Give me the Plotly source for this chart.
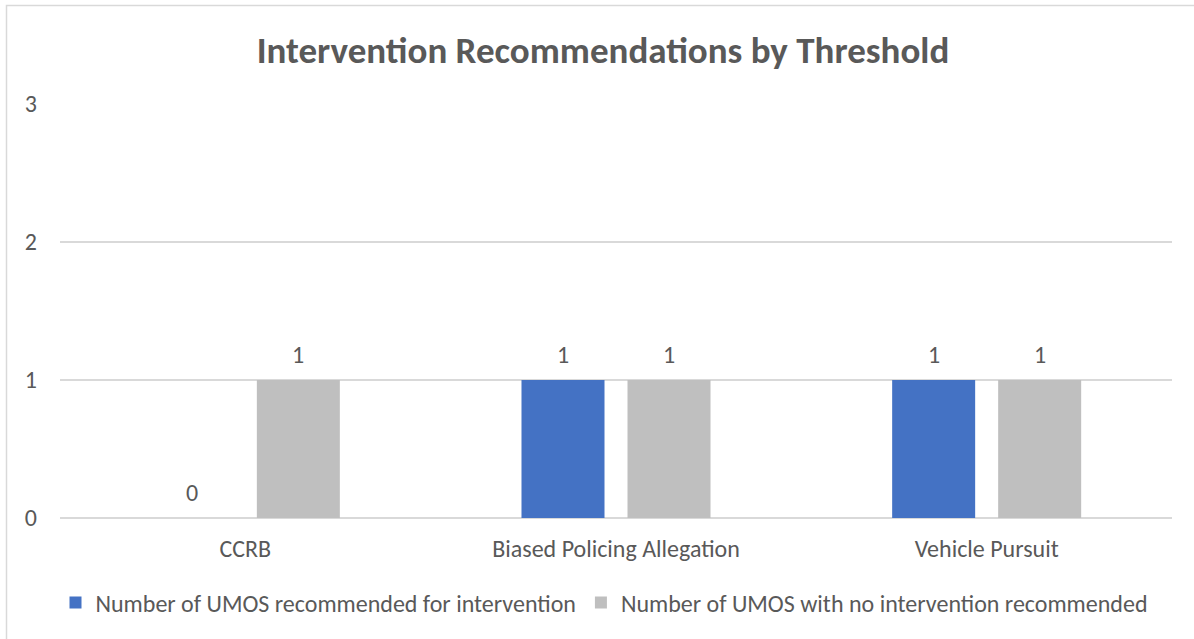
import plotly.graph_objects as go

categories = ["CCRB", "Biased Policing Allegation", "Vehicle Pursuit"]
series_names = ["Number of UMOS recommended for intervention",
                "Number of UMOS with no intervention recommended"]
recommended = [0, 1, 1]
not_recommended = [1, 1, 1]
y_ticks = [0, 1, 2, 3]

FONT = "Carlito, Calibri, Lato, sans-serif"
TXT = "#595959"
COLORS = ["#4472C4", "#BFBFBF"]

L, R, T, B = 60, 22, 104, 121
W, H = 1194, 639
pw, ph = W - L - R, H - T - B
BARGAP, GROUPGAP = 0.428, 0.217

def px_x(p):
    return (p - L) / pw

def px_y(p):
    return (H - B - p) / ph

fig = go.Figure()
series = [recommended, not_recommended]
for name, vals, col in zip(series_names, series, COLORS):
    fig.add_trace(go.Bar(x=categories, y=vals, name=name,
                         marker=dict(color=col, line=dict(width=0))))

# data labels as annotations above each bar
slot_px = pw / len(categories) * (1 - BARGAP) / len(series)
annotations = []
for i, vals in enumerate(series):
    shift = (i - (len(series) - 1) / 2) * slot_px
    for c, v in zip(categories, vals):
        annotations.append(dict(x=c, y=v, xref="x", yref="y", text=str(v), showarrow=False,
                                xshift=shift, yshift=9, yanchor="bottom",
                                font=dict(size=24, color=TXT, family=FONT)))

fig.update_layout(
    width=W, height=H,
    margin=dict(l=L, r=R, t=T, b=B),
    paper_bgcolor="white", plot_bgcolor="white",
    font=dict(family=FONT, color=TXT, size=24),
    title=dict(text="<b>Intervention Recommendations by Threshold</b>",
               x=0.505, xanchor="center", y=1 - 50 / H, yanchor="middle",
               font=dict(size=37, color=TXT, family=FONT)),
    barmode="group", bargap=BARGAP, bargroupgap=GROUPGAP,
    showlegend=True,
    legend=dict(orientation="h", x=px_x(604), xanchor="center", y=px_y(603), yanchor="middle",
                font=dict(size=24, color=TXT, family=FONT), itemwidth=30,
                traceorder="normal"),
    xaxis=dict(showgrid=False, showline=False, ticks="", tickfont=dict(size=24, color=TXT),
               ticklabelstandoff=14),
    yaxis=dict(range=[0, 3], tickvals=y_ticks, showgrid=True, gridcolor="#D9D9D9", gridwidth=1.5,
               zeroline=True, zerolinecolor="#D9D9D9", zerolinewidth=1.5,
               showline=False, ticks="", tickfont=dict(size=24, color=TXT),
               ticklabelstandoff=22),
    annotations=annotations,
    shapes=[dict(type="rect", xref="paper", yref="paper",
                 x0=px_x(6.5), x1=px_x(1300), y0=px_y(5.5), y1=px_y(700),
                 line=dict(color="#D9D9D9", width=1.5), fillcolor="rgba(0,0,0,0)", layer="below")],
)

fig.write_html("out.html", config={"displayModeBar": False},
               post_script="document.body.style.margin='0';document.body.style.overflow='hidden';")
